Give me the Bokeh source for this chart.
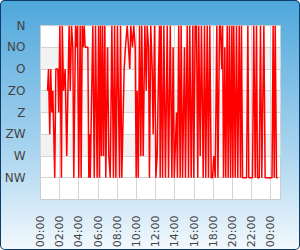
from bokeh.plotting import figure
from bokeh.models import FixedTicker, Label, ColumnDataSource, BoxAnnotation
from bokeh.embed import file_html
from bokeh.resources import INLINE

# --- data -------------------------------------------------------------
title_text = "Windrichting"
direction_labels = ["NW", "W", "ZW", "Z", "ZO", "O", "NO", "N"]
shaded_bands = [("W", "ZW"), ("Z", "ZO"), ("O", "NO")]
tick_minutes = [0, 120, 240, 360, 480, 600, 720, 840, 960, 1080, 1200, 1320, 1440]
tick_labels = ["00:00", "02:00", "04:00", "06:00", "08:00", "10:00", "12:00",
               "14:00", "16:00", "18:00", "20:00", "22:00", "00:00"]

minutes = [
    44, 50, 58, 64, 71, 77, 89, 96, 108, 114,
    121, 131, 136, 144, 154, 164, 179, 186, 194, 202,
    208, 219, 227, 231, 239, 248, 254, 261, 267, 273,
    279, 296, 302, 306, 311, 327, 336, 344, 354, 363,
    369, 375, 381, 388, 394, 402, 408, 419, 427, 436,
    446, 456, 463, 471, 481, 494, 500, 508, 523, 531,
    542, 550, 558, 564, 575, 583, 592, 598, 604, 611,
    619, 627, 633, 642, 652, 661, 667, 675, 681, 689,
    698, 704, 713, 721, 729, 738, 744, 748, 754, 763,
    771, 781, 792, 800, 811, 821, 829, 836, 850, 856,
    864, 873, 879, 888, 900, 906, 917, 925, 933, 942,
    952, 958, 967, 975, 983, 989, 998, 1006, 1017, 1025,
    1033, 1042, 1050, 1058, 1067, 1075, 1083, 1092, 1102, 1109,
    1119, 1125, 1133, 1138, 1144, 1152, 1158, 1167, 1173, 1181,
    1188, 1196, 1202, 1208, 1217, 1225, 1233, 1242, 1250, 1256,
    1263, 1288, 1296, 1302, 1325, 1333, 1342, 1350, 1356, 1367,
    1375, 1383, 1396, 1404, 1447, 1454, 1461, 1467, 1475, 1483,
]
directions = [
    "ZO", "O", "ZW", "O", "Z", "ZO", "NW", "O", "O", "Z",
    "N", "NW", "N", "ZO", "O", "W", "N", "ZO", "N", "NO",
    "NW", "N", "NO", "N", "NW", "N", "NW", "N", "NO", "N",
    "NO", "NO", "NW", "ZW", "NW", "N", "NW", "N", "NW", "N",
    "NW", "N", "W", "N", "W", "N", "NW", "NO", "W", "NW",
    "N", "NW", "N", "NW", "N", "NW", "N", "NW", "O", "NO",
    "N", "NO", "O", "N", "NO", "N", "NO", "NW", "ZO", "NW",
    "N", "W", "N", "W", "N", "ZO", "N", "NO", "NW", "N",
    "O", "ZW", "N", "NW", "W", "O", "N", "NW", "N", "NW",
    "N", "NW", "N", "NW", "N", "NW", "NO", "NW", "Z", "NW",
    "N", "NW", "N", "NW", "NO", "NW", "N", "NW", "N", "NW",
    "N", "NW", "N", "N", "NW", "N", "W", "N", "NW", "N",
    "NW", "N", "NW", "N", "NW", "NW", "W", "NW", "N", "NW",
    "N", "N", "O", "N", "NW", "NO", "NW", "N", "NW", "N",
    "NW", "N", "NW", "N", "NW", "N", "NW", "N", "NW", "N",
    "NW", "NW", "N", "NW", "NW", "N", "NW", "N", "NW", "NW",
    "N", "NW", "N", "NW", "NW", "N", "NW", "N", "NW", "NW",
]

# --- build -------------------------------------------------------------
level = {name: i for i, name in enumerate(direction_labels)}
src = ColumnDataSource(dict(t=minutes, d=[level[d] for d in directions]))

p = figure(width=300, height=250, output_backend="svg", toolbar_location=None,
           x_range=(0, 1500), y_range=(-1, 7),
           min_border_left=40, min_border_right=20,
           min_border_top=25, min_border_bottom=50)

p.styles = {
    "background": "linear-gradient(to bottom, #4ea7db 0%, #a9d4ef 60%, #f3f9fd 100%)",
    "border-radius": "5px",
    "box-shadow": "inset 0 0 0 1px #0c3d6a",
}
p.border_fill_alpha = 0
p.background_fill_color = "#ffffff"
p.outline_line_color = "#cccccc"
p.outline_line_width = 1

for lo, hi in shaded_bands:
    p.add_layout(BoxAnnotation(bottom=level[lo], top=level[hi],
                               fill_color="#f2f2f2", fill_alpha=1.0,
                               line_color=None, level="image"))

p.line("t", "d", source=src, line_color="#ff0000", line_width=1.5)

# axes
p.yaxis.ticker = FixedTicker(ticks=list(range(len(direction_labels))))
p.yaxis.major_label_overrides = {i: n for i, n in enumerate(direction_labels)}
p.xaxis.ticker = FixedTicker(ticks=tick_minutes)
p.xaxis.major_label_overrides = {m: l for m, l in zip(tick_minutes, tick_labels)}
p.xaxis.major_label_orientation = 1.5707963
for ax in (p.xaxis, p.yaxis):
    ax.axis_line_color = None
    ax.major_tick_line_color = None
    ax.minor_tick_line_color = None
    ax.major_label_text_color = "#444444"
    ax.major_label_text_font = "DejaVu Sans"
p.yaxis.major_label_text_font_size = "12px"
p.yaxis.major_label_standoff = 9
p.xaxis.major_label_text_font_size = "11px"
p.xaxis.major_label_standoff = 10

# grids
p.xgrid.grid_line_color = "#d5d5d5"
p.ygrid.grid_line_color = "#d5d5d5"

# title
p.add_layout(Label(x=109, y=189, x_units="screen", y_units="screen",
                   text=title_text, text_align="center", text_baseline="middle",
                   text_font="DejaVu Sans", text_font_size="13px",
                   text_color="#1b4a76"))

open("out.html", "w").write(file_html(p, INLINE))
